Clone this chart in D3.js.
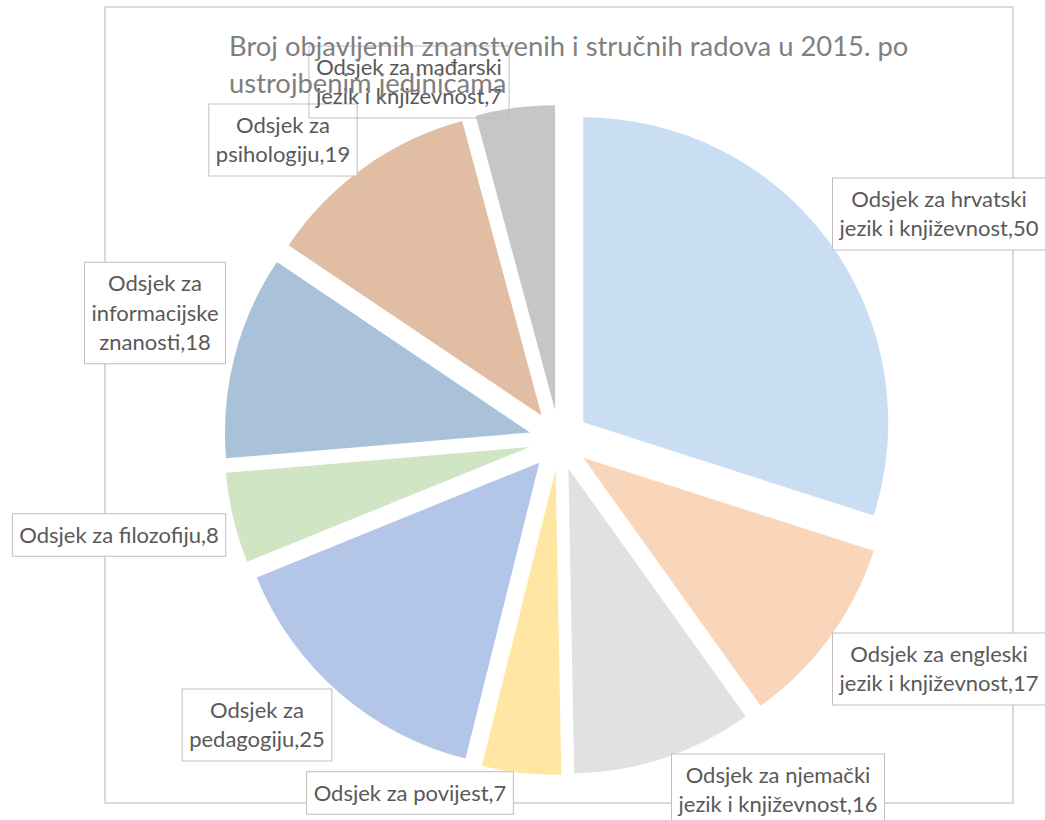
<!DOCTYPE html>
<html>
<head>
<meta charset="utf-8">
<script src="https://cdn.jsdelivr.net/npm/d3@7"></script>
<style>
  html, body { margin: 0; padding: 0; background: #fff; }
  svg { display: block; }
</style>
</head>
<body>
<svg id="chart" width="1045" height="820"></svg>
<script>
// ---- data ----
const categories = [
  "Odsjek za hrvatski jezik i književnost",
  "Odsjek za engleski jezik i književnost",
  "Odsjek za njemački jezik i književnost",
  "Odsjek za povijest",
  "Odsjek za pedagogiju",
  "Odsjek za filozofiju",
  "Odsjek za informacijske znanosti",
  "Odsjek za psihologiju",
  "Odsjek za mađarski jezik i književnost"
];
const values = [50, 17, 16, 7, 25, 8, 18, 19, 7];
const labelLines = [
  ["Odsjek za hrvatski", "jezik i književnost,50"],
  ["Odsjek za engleski", "jezik i književnost,17"],
  ["Odsjek za njemački", "jezik i književnost,16"],
  ["Odsjek za povijest,7"],
  ["Odsjek za", "pedagogiju,25"],
  ["Odsjek za filozofiju,8"],
  ["Odsjek za", "informacijske", "znanosti,18"],
  ["Odsjek za", "psihologiju,19"],
  ["Odsjek za mađarski", "jezik i književnost,7"]
];
const titleLines = ["Broj objavljenih znanstvenih i stručnih radova u 2015. po", "ustrojbenim jedinicama"];

// ---- styles / layout ----
const colorsA = ["#c9def2", "#f9d5b9", "#e1e1e1", "#ffe7a3", "#b3c6e7", "#d0e5c3", "#a9c2da", "#e0bda3", "#c6c6c6"];
const colorsB = ["#b2d0ec", "#f7c6a2", "#dadada", "#fde294", "#bfcfea", "#c4deb4", "#a2bbd5", "#dbb092", "#c0c0c0"];
// label box centres (layout)
const labelCenters = [[939, 214], [939, 669], [778, 790], [410, 793], [257, 725], [119, 535], [155, 313], [283, 140], [409, 82]];

const svg = d3.select("#chart");
const cx = 559, cy = 440, R = 305, explode = 30;

// frame
svg.append("rect").attr("x", 105).attr("y", 7).attr("width", 908).attr("height", 796)
  .attr("fill", "#fff").attr("stroke", "#d9d9d9").attr("stroke-width", 2);

const defs = svg.append("defs");
values.forEach((v, i) => {
  const g = defs.append("linearGradient").attr("id", "grad" + i)
    .attr("gradientUnits", "userSpaceOnUse")
    .attr("x1", cx - R).attr("y1", cy - R).attr("x2", cx + R).attr("y2", cy + R);
  g.append("stop").attr("offset", "0").attr("stop-color", colorsA[i]);
  g.append("stop").attr("offset", "1").attr("stop-color", colorsB[i]);
});

const pie = d3.pie().sort(null).value(d => d)(values);
const arc = d3.arc().innerRadius(0).outerRadius(R);

const gPie = svg.append("g").attr("transform", `translate(${cx},${cy})`);
gPie.selectAll("path").data(pie).join("path")
  .attr("d", arc)
  .attr("fill", (d, i) => `url(#grad${i})`)
  .attr("transform", d => {
    const a = (d.startAngle + d.endAngle) / 2;
    return `translate(${explode * Math.sin(a)},${-explode * Math.cos(a)})`;
  });

// labels
const fontFam = "Lato, 'Open Sans', sans-serif";
const fs = 22, lh = 29.5, padX = 7, padY = 6.5;
const gLab = svg.append("g");
labelLines.forEach((lines, i) => {
  const [lx, ly] = labelCenters[i];
  const g = gLab.append("g");
  const rect = g.append("rect");
  const texts = lines.map((t, k) => g.append("text")
    .attr("x", lx)
    .attr("y", ly + (k - (lines.length - 1) / 2) * lh)
    .attr("dy", "0.35em")
    .attr("text-anchor", "middle")
    .attr("font-family", fontFam)
    .attr("font-size", fs)
    .attr("fill", "#595959")
    .text(t));
  const w = d3.max(texts, t => t.node().getComputedTextLength());
  const h = lines.length * lh;
  rect.attr("x", lx - w / 2 - padX).attr("y", ly - h / 2 - padY)
    .attr("width", w + 2 * padX).attr("height", h + 2 * padY)
    .attr("fill", i === 8 ? "none" : "#fff").attr("stroke", "#bfbfbf").attr("stroke-width", 1);
});

// title (on top)
titleLines.forEach((t, k) => {
  svg.append("text").attr("x", 229).attr("y", 56 + k * 37)
    .attr("font-family", fontFam).attr("font-size", 27.4).attr("fill", "#7f7f7f")
    .text(t);
});
</script>
</body>
</html>
